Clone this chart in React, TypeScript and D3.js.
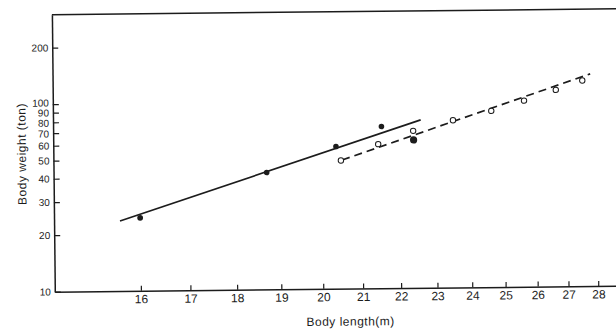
import { useEffect, useRef } from "react";
import * as d3 from "d3";

// body length (m) / body weight (ton)
const filledLength = [16.0, 18.69, 20.35, 21.52, 22.38];
const filledWeight = [24.5, 42.0, 57.3, 72.8, 61.5];
const filledRadius = [2.9, 2.8, 2.8, 2.8, 3.6];

const openLength = [20.47, 21.43, 22.37, 23.49, 24.62, 25.63, 26.65, 27.53];
const openWeight = [48.2, 58.7, 68.8, 78.0, 87.0, 98.3, 111.7, 124.8];

// regression lines (end points)
const solidLine: [number, number][] = [[15.61, 23.6], [22.58, 78.6]];
const dashedLine: [number, number][] = [[20.5, 48.5], [27.8, 135.3]];

const xTicks = [16, 17, 18, 19, 20, 21, 22, 23, 24, 25, 26, 27, 28];
const yTicks = [10, 20, 30, 40, 50, 60, 70, 80, 90, 100, 200];

const INK = "#1c1c1c";
const FONT = "'Liberation Sans', Arial, sans-serif";

export default function App() {
  const svgRef = useRef<SVGSVGElement>(null);

  useEffect(() => {
    const svgEl = svgRef.current;
    if (!svgEl) return;

    const width = 616;
    const height = 333;
    const frame = { left: 53.5, right: 620, top: 12, bottom: 289 };

    const x = d3.scaleLog().domain([14.4, 28.8]).range([frame.left, frame.right]);
    const y = d3.scaleLog().domain([10, 300]).range([frame.bottom, frame.top]);

    const svg = d3.select(svgEl).attr("width", width).attr("height", height);
    svg.selectAll("*").remove();

    // the scan is tilted a little
    const root = svg.append("g").attr("transform", `rotate(-0.6, ${width / 2}, ${height / 2})`);

    // ── frame top ──────────────────────────────────────────────
    root.append("line")
      .attr("x1", frame.left).attr("x2", frame.right)
      .attr("y1", frame.top).attr("y2", frame.top)
      .attr("stroke", INK).attr("stroke-width", 1.5);

    // ── x axis ─────────────────────────────────────────────────
    root.append("g")
      .attr("transform", `translate(0,${frame.bottom})`)
      .call(
        d3.axisBottom(x)
          .tickValues(xTicks)
          .tickFormat((d) => String(d))
          .tickSizeInner(-5)
          .tickSizeOuter(0)
          .tickPadding(4)
      )
      .call((g) => g.select(".domain").attr("stroke", INK).attr("stroke-width", 1.5))
      .call((g) => g.selectAll(".tick line").attr("stroke", INK).attr("stroke-width", 1.2))
      .call((g) =>
        g.selectAll("text").attr("font-family", FONT).attr("font-size", 12).attr("fill", INK)
      );

    // ── y axis ─────────────────────────────────────────────────
    // small nudges keep the crowded 70‥100 labels apart
    const nudge: Record<number, number> = { 100: -1.4, 80: 0.6, 70: 0.4 };
    root.append("g")
      .attr("transform", `translate(${frame.left},0)`)
      .call(
        d3.axisLeft(y)
          .tickValues(yTicks)
          .tickFormat((d) => String(d))
          .tickSizeInner(-6)
          .tickSizeOuter(0)
          .tickPadding(4)
      )
      .call((g) => g.select(".domain").attr("stroke", INK).attr("stroke-width", 1.5))
      .call((g) => g.selectAll(".tick line").attr("stroke", INK).attr("stroke-width", 1.2))
      .call((g) =>
        g.selectAll<SVGTextElement, number>("text")
          .attr("font-family", FONT)
          .attr("font-size", 10)
          .attr("fill", INK)
          .attr("y", (d) => nudge[d] ?? 0)
      );

    // ── titles ─────────────────────────────────────────────────
    root.append("text")
      .attr("x", 349).attr("y", 326)
      .attr("text-anchor", "middle")
      .attr("font-family", FONT).attr("font-size", 12).attr("letter-spacing", 0.5)
      .attr("fill", INK)
      .text("Body length(m)");

    root.append("text")
      .attr("transform", `translate(26,151) rotate(-90)`)
      .attr("text-anchor", "middle")
      .attr("font-family", FONT).attr("font-size", 12).attr("letter-spacing", 0.5)
      .attr("fill", INK)
      .text("Body weight (ton)");

    // ── fitted lines ───────────────────────────────────────────
    const line = d3.line<[number, number]>().x((d) => x(d[0])).y((d) => y(d[1]));

    root.append("path")
      .attr("d", line(solidLine))
      .attr("fill", "none").attr("stroke", INK).attr("stroke-width", 1.7);

    root.append("path")
      .attr("d", line(dashedLine))
      .attr("fill", "none").attr("stroke", INK).attr("stroke-width", 1.7)
      .attr("stroke-dasharray", "8,5");

    // ── points ─────────────────────────────────────────────────
    root.append("g")
      .selectAll("circle")
      .data(openLength.map((l, i) => [l, openWeight[i]]))
      .join("circle")
      .attr("cx", (d) => x(d[0]))
      .attr("cy", (d) => y(d[1]))
      .attr("r", 2.7)
      .attr("fill", "#fff")
      .attr("stroke", INK)
      .attr("stroke-width", 1);

    root.append("g")
      .selectAll("circle")
      .data(filledLength.map((l, i) => [l, filledWeight[i], filledRadius[i]]))
      .join("circle")
      .attr("cx", (d) => x(d[0]))
      .attr("cy", (d) => y(d[1]))
      .attr("r", (d) => d[2])
      .attr("fill", INK);
  }, []);

  return (
    <div style={{ position: "absolute", left: 0, top: 0, width: 616, height: 333, background: "#fff" }}>
      <svg ref={svgRef} style={{ display: "block" }} />
    </div>
  );
}
